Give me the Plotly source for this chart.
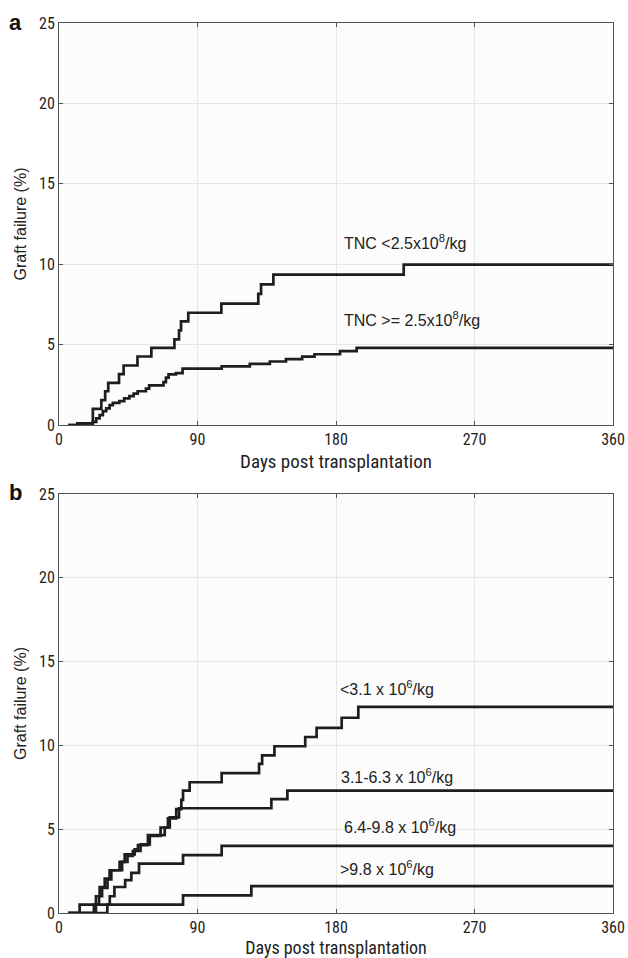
import plotly.graph_objects as go

# ---------------- data ----------------
# Panel a: TNC dose
a_hi_days = [6, 12, 22, 27.5, 30, 32, 39, 42, 51, 60, 75, 78, 79.3, 84, 105.5, 129.5, 131.3, 139.3, 224, 360]
a_hi_vals = [0, 0.1, 1.0, 1.55, 2.1, 2.62, 3.16, 3.7, 4.26, 4.8, 5.32, 5.88, 6.44, 6.98, 7.55, 8.15, 8.75, 9.35, 9.97, 9.97]

a_lo_days = [6, 12, 22, 24.2, 26.4, 28.5, 30.7, 32.9, 35, 39.2, 42.4, 45.7, 48.5, 51.1, 56.5, 58.6, 67.9, 69.5,
             71.2, 76, 80.3, 105.7, 124, 137, 147.5, 158, 166, 182.6, 193.4, 360]
a_lo_vals = [0, 0.1, 0.2, 0.41, 0.62, 0.86, 1.03, 1.23, 1.38, 1.48, 1.65, 1.79, 1.95, 2.1, 2.26, 2.47, 2.67, 2.94,
             3.15, 3.23, 3.5, 3.65, 3.8, 3.95, 4.1, 4.25, 4.4, 4.6, 4.8, 4.8]

# Panel b: CD34 dose groups
b1_days = [6, 22.7, 24, 26.4, 29.7, 32.9, 39.4, 42.7, 49.2, 51.3, 57.8, 68.7, 70.8, 76.2, 79.5, 80.6, 84.9,
           105.7, 130, 132, 140, 160, 167.4, 183.7, 194.5, 360]
b1_vals = [0, 0.5, 1.0, 1.55, 2.05, 2.55, 3.05, 3.5, 3.8, 4.05, 4.65, 5.1, 5.65, 6.2, 6.75, 7.3, 7.8,
           8.35, 8.9, 9.4, 9.95, 10.5, 11.05, 11.65, 12.3, 12.3]

b2_days = [6, 24, 26, 28, 31.5, 34, 41, 44.5, 48, 53, 59, 66, 72, 78, 138, 148.4, 360]
b2_vals = [0, 0.5, 1.0, 1.5, 2.0, 2.55, 3.05, 3.4, 3.7, 4.1, 4.6, 5.1, 5.7, 6.25, 6.8, 7.3, 7.3]

b3_days = [6, 31.4, 33, 36, 43, 47, 52, 80.6, 105.7, 360]
b3_vals = [0, 0.5, 1.0, 1.55, 1.96, 2.4, 2.95, 3.45, 4.0, 4.0]

b4_days = [6, 13.4, 80.6, 125, 360]
b4_vals = [0, 0.5, 1.05, 1.6, 1.6]

x_ticks = [0, 90, 180, 270, 360]
y_ticks = [0, 5, 10, 15, 20, 25]

a_labels = ["TNC &lt;2.5x10<sup>8</sup>/kg", "TNC &gt;= 2.5x10<sup>8</sup>/kg"]
a_label_pos = [(184, 11.4), (184, 6.6)]
b_labels = ["&lt;3.1 x 10<sup>6</sup>/kg", "3.1-6.3 x 10<sup>6</sup>/kg",
            "6.4-9.8 x 10<sup>6</sup>/kg", "&gt;9.8 x 10<sup>6</sup>/kg"]
b_label_pos = [(181, 13.4), (182, 8.2), (184, 5.2), (181, 2.7)]

# ---------------- figure ----------------
W, H = 628, 958
LINE = "#1e1e1e"
FONT_NARROW = "Liberation Sans Narrow, Arial Narrow, Roboto Condensed, Liberation Sans, sans-serif"
FONT = "Liberation Sans, Arial, Helvetica, sans-serif"

fig = go.Figure()

def add_curve(days, vals, xa, ya):
    fig.add_trace(go.Scatter(x=days, y=vals, mode="lines", line=dict(color=LINE, width=2.7, shape="hv"),
                             xaxis=xa, yaxis=ya, showlegend=False, hoverinfo="skip"))

add_curve(a_hi_days, a_hi_vals, "x", "y")
add_curve(a_lo_days, a_lo_vals, "x", "y")
add_curve(b1_days, b1_vals, "x2", "y2")
add_curve(b2_days, b2_vals, "x2", "y2")
add_curve(b3_days, b3_vals, "x2", "y2")
add_curve(b4_days, b4_vals, "x2", "y2")

px_x0, px_x1 = 59, 613
a_top, a_bot = 23, 425
b_top, b_bot = 494, 913

def xd():
    return [px_x0 / W, px_x1 / W]

def yd(top, bot):
    return [(H - bot) / H, (H - top) / H]

axis_common = dict(
    showline=True, linecolor="#555555", linewidth=1, mirror="ticks",
    ticks="inside", ticklen=4, tickcolor="#555555",
    showgrid=True, gridcolor="#e6e6e6", gridwidth=1, zeroline=False,
    tickfont=dict(family=FONT_NARROW, size=16, color="#222222"),
    automargin=False,
)

title_font = dict(family=FONT_NARROW, size=19, color="#222222")
title_font_b = dict(family=FONT_NARROW, size=18, color="#222222")
ytitle_font = dict(family=FONT, size=16, color="#222222")

fig.update_layout(
    width=W, height=H,
    margin=dict(l=0, r=0, t=0, b=0),
    paper_bgcolor="white",
    plot_bgcolor="#fcfcfc",
    xaxis=dict(domain=xd(), range=[0, 360], tickvals=x_ticks, anchor="y",
               title=dict(text="Days post transplantation", font=title_font, standoff=6), **axis_common),
    yaxis=dict(domain=yd(a_top, a_bot), range=[0, 25], tickvals=y_ticks, anchor="x",
               title=dict(text="Graft failure (%)", font=ytitle_font, standoff=8), **axis_common),
    xaxis2=dict(domain=xd(), range=[0, 360], tickvals=x_ticks, anchor="y2",
                title=dict(text="Days post transplantation", font=title_font_b, standoff=9), **axis_common),
    yaxis2=dict(domain=yd(b_top, b_bot), range=[0, 25], tickvals=y_ticks, anchor="x2",
                title=dict(text="Graft failure (%)", font=ytitle_font, standoff=8), **axis_common),
)

ann_font = dict(family=FONT, size=16, color="#222222")
for txt, (xv, yv) in zip(a_labels, a_label_pos):
    fig.add_annotation(x=xv, y=yv, xref="x", yref="y", text=txt, showarrow=False,
                       xanchor="left", yanchor="middle", font=ann_font)
for txt, (xv, yv) in zip(b_labels, b_label_pos):
    fig.add_annotation(x=xv, y=yv, xref="x2", yref="y2", text=txt, showarrow=False,
                       xanchor="left", yanchor="middle", font=ann_font)

# panel letters
for letter, ypx in [("a", 22), ("b", 492)]:
    fig.add_annotation(x=7 / W, y=(H - ypx) / H, xref="paper", yref="paper", text="<b>" + letter + "</b>",
                       showarrow=False, xanchor="left", yanchor="middle",
                       font=dict(family=FONT, size=22, color="#111111"))

fig.write_html("out.html", config={"displayModeBar": False},
               post_script="document.body.style.margin='0';document.body.style.overflow='hidden';")
